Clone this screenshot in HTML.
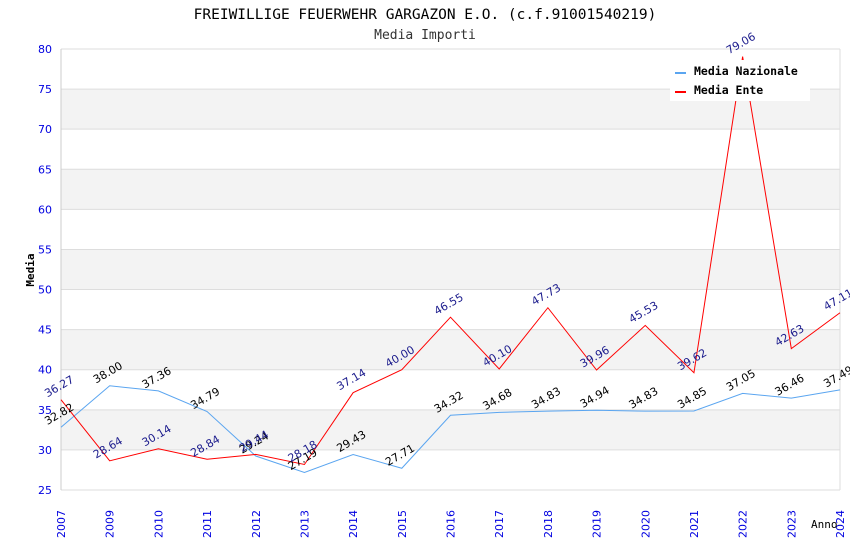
<!DOCTYPE html>
<html><head><meta charset="utf-8"><style>
body{margin:0;background:#fff}
svg{display:block}
</style></head><body>
<svg id="chart" width="850" height="550" xmlns="http://www.w3.org/2000/svg">
<text x="425" y="19" text-anchor="middle" font-family="DejaVu Sans Mono, Liberation Mono, monospace" font-size="14.5" fill="#000">FREIWILLIGE FEUERWEHR GARGAZON E.O. (c.f.91001540219)</text>
<text x="425" y="39" text-anchor="middle" font-family="DejaVu Sans Mono, Liberation Mono, monospace" font-size="13" fill="#333">Media Importi</text>
<g id="grid"></g>
<g id="series"></g>
<g id="labels"></g>
<text transform="translate(34,270) rotate(-90)" text-anchor="middle" font-family="DejaVu Sans Mono, monospace" font-size="11" font-weight="bold" fill="#000">Media</text>
<text x="811" y="528" font-family="DejaVu Sans Mono, monospace" font-size="11" fill="#000">Anno</text>
<g>
<rect x="670" y="60" width="140" height="41" fill="#fff"/>
<line x1="675" y1="73" x2="686" y2="73" stroke="#5aa5f0" stroke-width="2"/>
<text x="694" y="75" font-family="DejaVu Sans Mono, monospace" font-size="11.5" font-weight="bold" fill="#000">Media Nazionale</text>
<line x1="675" y1="92" x2="686" y2="92" stroke="#f00" stroke-width="2"/>
<text x="694" y="94" font-family="DejaVu Sans Mono, monospace" font-size="11.5" font-weight="bold" fill="#000">Media Ente</text>
</g>
</svg>
<script>
const years=["2007","2009","2010","2011","2012","2013","2014","2015","2016","2017","2018","2019","2020","2021","2022","2023","2024"];
const nazionale=[32.82,38.00,37.36,34.79,29.24,27.19,29.43,27.71,34.32,34.68,34.83,34.94,34.83,34.85,37.05,36.46,37.49];
const ente=[36.27,28.64,30.14,28.84,29.44,28.18,37.14,40.00,46.55,40.10,47.73,39.96,45.53,39.62,79.06,42.63,47.11];
const yTicks=[25,30,35,40,45,50,55,60,65,70,75,80];

const NS="http://www.w3.org/2000/svg";
const L=61,R=840,T=49,B=490,YMIN=25,YMAX=80;
const x=i=>L+i*(R-L)/(years.length-1);
const y=v=>B-(v-YMIN)/(YMAX-YMIN)*(B-T);
function mk(tag,attrs,parent){const e=document.createElementNS(NS,tag);for(const k in attrs)e.setAttribute(k,attrs[k]);parent.appendChild(e);return e;}
const grid=document.getElementById('grid'),ser=document.getElementById('series'),lab=document.getElementById('labels');
for(let i=0;i<yTicks.length-1;i++){
  if(i%2===1){const r=mk('rect',{x:L,y:y(yTicks[i+1]),width:R-L,height:y(yTicks[i])-y(yTicks[i+1]),fill:'#f3f3f3'},grid);
  
  }
}
yTicks.forEach(t=>{
  const l=mk('line',{x1:L,x2:R,y1:y(t),y2:y(t),stroke:'#dddddd','stroke-width':1},grid);
  
  
  const tx=mk('text',{x:L-9,y:y(t)+4,'text-anchor':'end','font-family':'DejaVu Sans, sans-serif','font-size':11,fill:'#0000e0'},grid);
  tx.textContent=t;
  
  
});
mk('line',{x1:L,x2:L,y1:T,y2:B,stroke:'#ccc'},grid);
mk('line',{x1:R,x2:R,y1:T,y2:B,stroke:'#ddd'},grid);
years.forEach((yr,i)=>{
  const tx=mk('text',{transform:`translate(${x(i)+4},${B+48}) rotate(-90)`,'font-family':'DejaVu Sans, sans-serif','font-size':11,fill:'#0000e0'},grid);
  tx.textContent=yr;
  
  
});
function series(vals,color,lc,name){
  const p=mk('polyline',{points:vals.map((v,i)=>x(i)+','+y(v)).join(' '),fill:'none',stroke:color,'stroke-width':1},ser);
  
  
  vals.forEach((v,i)=>{
    const t=mk('text',{transform:`translate(${x(i)},${y(v)-10}) rotate(-30)`,'text-anchor':'middle','font-family':'DejaVu Sans, sans-serif','font-size':11,fill:lc},lab);
    t.textContent=v.toFixed(2);
    
    
  });
}
series(nazionale,'#5aa5f0','#000','nazionale');
series(ente,'#f00','#1a1a8c','ente');
</script>
</body></html>
